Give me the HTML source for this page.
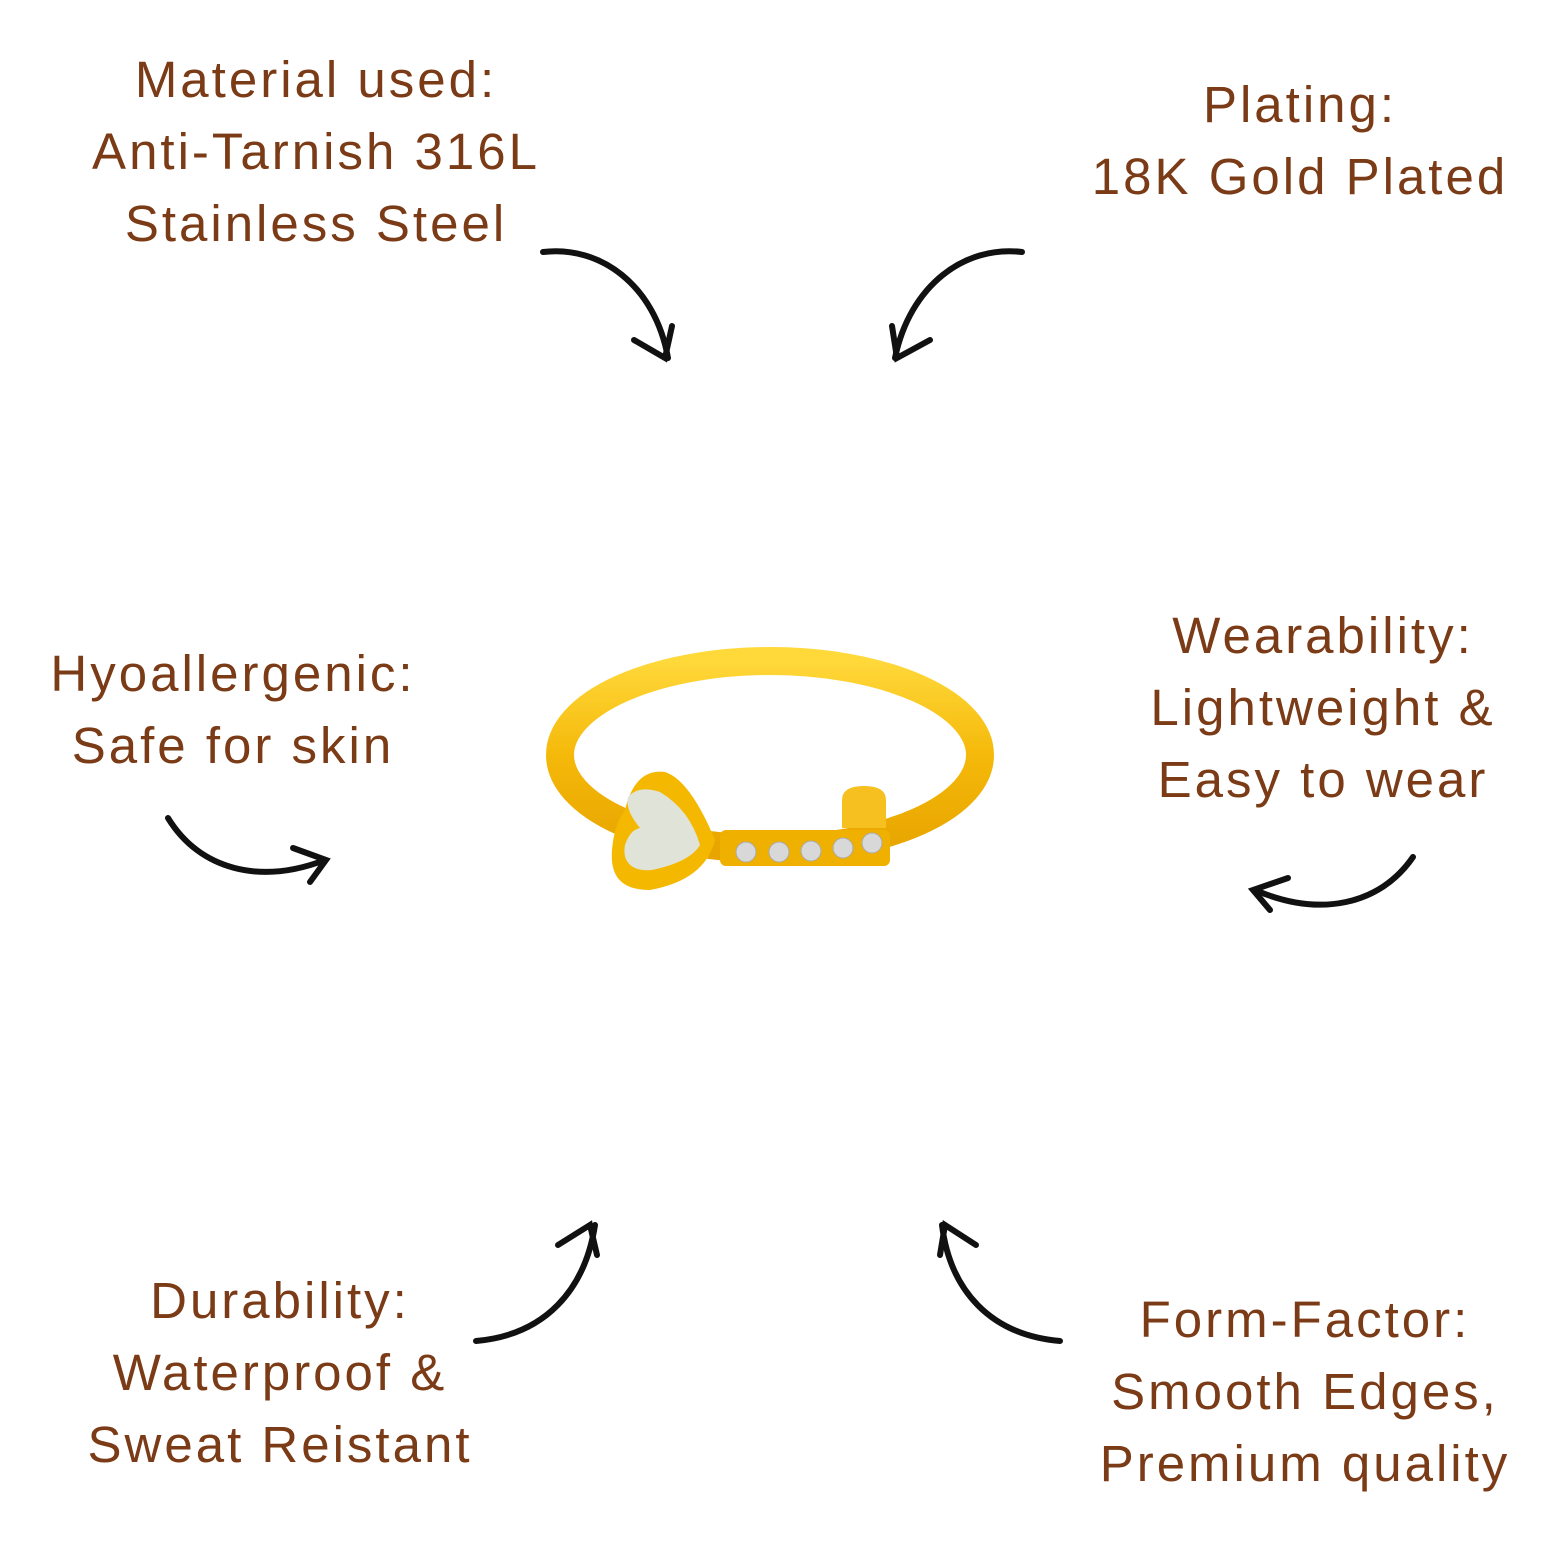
<!DOCTYPE html>
<html><head><style>
body{margin:0;width:1563px;height:1563px;background:#fff;position:relative;overflow:hidden;font-family:"Liberation Sans",sans-serif;}
.t{position:absolute;color:#7a3b16;font-size:51px;line-height:72px;text-align:center;letter-spacing:3px;white-space:nowrap;transform:translateX(-50%);}
svg{position:absolute;left:0;top:0}
</style></head><body>
<div class="t" style="left:316px;top:44px">Material used:<br>Anti-Tarnish 316L<br>Stainless Steel</div>
<div class="t" style="left:1300px;top:69px">Plating:<br>18K Gold Plated</div>
<div class="t" style="left:233px;top:638px">Hyoallergenic:<br>Safe for skin</div>
<div class="t" style="left:1323px;top:600px">Wearability:<br>Lightweight &amp;<br>Easy to wear</div>
<div class="t" style="left:280px;top:1265px">Durability:<br>Waterproof &amp;<br>Sweat Reistant</div>
<div class="t" style="left:1305px;top:1284px">Form-Factor:<br>Smooth Edges,<br>Premium quality</div>
<svg width="1563" height="1563" viewBox="0 0 1563 1563">
<defs><linearGradient id="g" x1="0" y1="0" x2="0" y2="1"><stop offset="0" stop-color="#ffd83a"/><stop offset="0.5" stop-color="#f5b90a"/><stop offset="1" stop-color="#e8a500"/></linearGradient></defs>
<g fill="none" stroke="#111" stroke-width="6" stroke-linecap="round">
<path d="M543 252 C600 245 655 285 668 358"/><path d="M634 340 L665 358 L672 326"/>
<path d="M1022 252 C965 245 910 285 895 358"/><path d="M930 340 L897 358 L892 326"/>
<path d="M168 818 C200 870 260 885 325 860"/><path d="M293 848 L326 860 L310 882"/>
<path d="M1413 857 C1380 905 1320 918 1255 890"/><path d="M1288 878 L1253 890 L1270 910"/>
<path d="M476 1341 C545 1335 585 1290 595 1225"/><path d="M558 1245 L590 1225 L597 1255"/>
<path d="M1060 1341 C990 1335 950 1290 942 1225"/><path d="M976 1245 L945 1225 L940 1255"/>
</g>
<ellipse cx="770" cy="755" rx="210" ry="94" fill="none" stroke="url(#g)" stroke-width="28"/>
<rect x="720" y="830" width="170" height="36" rx="6" fill="#f0b000"/>
<path d="M842 828 L842 800 Q842 786 864 786 Q886 786 886 800 L886 828 Z" fill="#f5c020"/>
<g fill="#d8d8d8" stroke="#aaa" stroke-width="1"><circle cx="746" cy="852" r="10"/><circle cx="779" cy="852" r="10"/><circle cx="811" cy="851" r="10"/><circle cx="843" cy="848" r="10"/><circle cx="872" cy="843" r="10"/></g>
<path d="M650 890 C620 890 610 875 612 850 Q614 825 625 810 Q635 768 665 772 Q690 780 715 840 Q705 880 650 890Z" fill="#f5b800"/>
<path d="M652 870 C630 872 622 860 625 845 Q630 830 640 828 Q625 810 628 797 Q638 785 660 792 Q690 810 700 845 Q690 862 652 870Z" fill="#dfe3d8"/>
</svg>
</body></html>
